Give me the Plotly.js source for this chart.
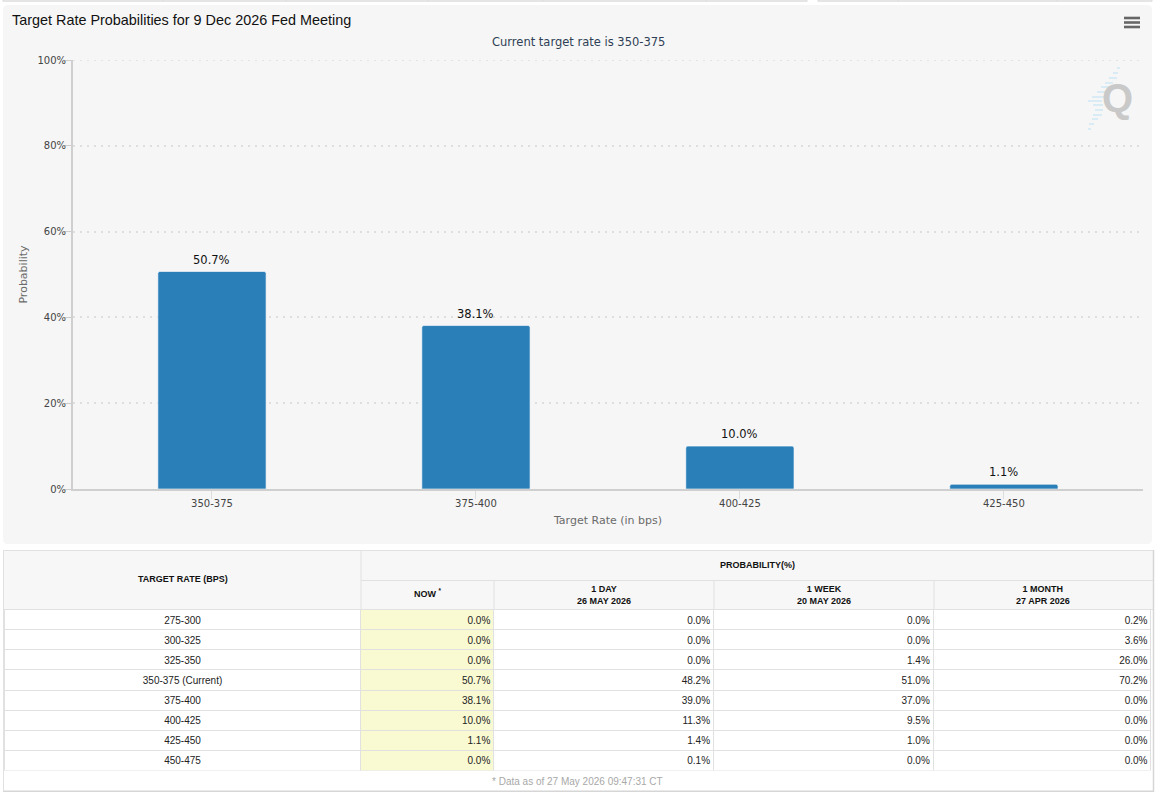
<!DOCTYPE html>
<html>
<head>
<meta charset="utf-8">
<script src="https://cdn.plot.ly/plotly-3.0.1.min.js"></script>
<style>html,body{margin:0;padding:0;background:#fff;overflow:hidden}#c{width:1156px;height:792px}</style>
</head>
<body>
<div id="c"></div>
<script>
const chartTitle = "Target Rate Probabilities for 9 Dec 2026 Fed Meeting";
const chartSubtitle = "Current target rate is 350-375";
const barCategories = ["350-375", "375-400", "400-425", "425-450"];
const barValues = [50.7, 38.1, 10.0, 1.1];
const yTicks = [0, 20, 40, 60, 80, 100];
const rateLabels = ["275-300","300-325","325-350","350-375 (Current)","375-400","400-425","425-450","450-475"];
const nowCol = ["0.0%","0.0%","0.0%","50.7%","38.1%","10.0%","1.1%","0.0%"];
const dayCol = ["0.0%","0.0%","0.0%","48.2%","39.0%","11.3%","1.4%","0.1%"];
const weekCol = ["0.0%","0.0%","1.4%","51.0%","37.0%","9.5%","1.0%","0.0%"];
const monthCol = ["0.2%","3.6%","26.0%","70.2%","0.0%","0.0%","0.0%","0.0%"];
const headTarget = "TARGET RATE (BPS)";
const headProb = "PROBABILITY(%)";
const headNow = "NOW <sup>*</sup>";
const headDay = "1 DAY<br>26 MAY 2026";
const headWeek = "1 WEEK<br>20 MAY 2026";
const headMonth = "1 MONTH<br>27 APR 2026";
const footNote = "* Data as of 27 May 2026 09:47:31 CT";

const W = 1156, H = 792;
const px = x => x / W, py = y => 1 - y / H;
const colX = [4, 361, 494, 714, 934, 1152];
const rowTop = 609.5, rowBottom = 770.5;
const lineC = "#e1e1e1";
const arial = "Liberation Sans, Arial, sans-serif";
const deja = "DejaVu Sans, Verdana, sans-serif";

const shapes = [];
function rect(x0, y0, x1, y1, fill) {
  shapes.push({type:"rect", xref:"paper", yref:"paper", x0:px(x0), x1:px(x1), y0:py(y0), y1:py(y1),
    fillcolor:fill, line:{color:"rgba(0,0,0,0)", width:0}, layer:"below"});
}
function seg(x0, y0, x1, y1, color, w, layer) {
  shapes.push({type:"line", xref:"paper", yref:"paper", x0:px(x0), x1:px(x1), y0:py(y0), y1:py(y1),
    line:{color:color, width:w}, layer:layer||"below"});
}
const r = 5, pL = 3, pT = 5, pR = 1152, pB = 544;
const X = v => px(v).toFixed(5), Y = v => py(v).toFixed(5);
shapes.push({type:"path", xref:"paper", yref:"paper", layer:"below", fillcolor:"#f6f6f6", line:{width:0},
  path:`M${X(pL+r)},${Y(pT)} L${X(pR-r)},${Y(pT)} Q${X(pR)},${Y(pT)} ${X(pR)},${Y(pT+r)} L${X(pR)},${Y(pB-r)} Q${X(pR)},${Y(pB)} ${X(pR-r)},${Y(pB)} L${X(pL+r)},${Y(pB)} Q${X(pL)},${Y(pB)} ${X(pL)},${Y(pB-r)} L${X(pL)},${Y(pT+r)} Q${X(pL)},${Y(pT)} ${X(pL+r)},${Y(pT)} Z`});
// cut-off table above the chart
seg(3, 1, 807, 1, "#dcdcdc", 1.5); seg(818, 1, 1152, 1, "#dcdcdc", 1.5);
[3,163,286,428,543,706,807,818,898,1057,1152].forEach(x => seg(x, 0, x, 1.5, "#dcdcdc", 1));
// top gridline sits on the end of the axis domain
shapes.push({type:"line", xref:"paper", yref:"y", x0:px(73), x1:px(1143), y0:yTicks[5], y1:yTicks[5],
  line:{color:"#dedede", width:1.5, dash:"2px,5px"}, layer:"below"});
// menu icon
[18, 22.5, 27].forEach(y => seg(1124, y, 1140, y, "#666", 2.6, "above"));
// logo streaks
[[1117,1120,68],[1113,1118,73],[1109,1117,78],[1105,1113,83],[1101,1110,87],[1097,1106,92],[1092,1104,97],[1088,1102,101],
 [1093,1103,105],[1095,1103,110],[1093,1102,115],[1092,1098,119],[1089,1094,124],[1088,1091,129]]
  .forEach(s => seg(s[0], s[2], s[1], s[2], "#cfe9f6", 1.5));
// table frame and header
rect(3, 550, 1153, 791, "#fff");
rect(3, 550, 1153, 609.5, "#f7f7f7");
seg(1153.5, 550, 1153.5, 792, "#d6d6d6", 1.5);
seg(3, 791.3, 1153, 791.3, "#d6d6d6", 1.5);
seg(3, 550.5, 1153, 550.5, lineC, 1);
seg(3.5, 550, 3.5, 791, lineC, 1);
seg(361, 550, 361, 610, lineC, 1);
seg(361, 580.5, 1153, 580.5, lineC, 1);
colX.slice(2, 5).forEach(x => seg(x, 580.5, x, 610, lineC, 1));
seg(3, 609.5, 1153, 609.5, lineC, 1);

const ann = (text, x, y, font) => ({xref:"paper", yref:"paper", x:px(x), y:py(y), text:text,
  showarrow:false, xanchor:"center", yanchor:"middle", font:font, align:"center", borderpad:0});
const bold = s => "<b>" + s + "</b>";
const hf = {family:arial, size:9, color:"#111"};
const annotations = [
  ann(chartSubtitle, 578, 42, {family:deja, size:11.5, color:"#2f3f55"}),
  ann(bold("Q"), 1117, 98, {family:arial, size:40, color:"#c9c9c9"}),
  ann(bold(headTarget), 182.5, 578.5, hf),
  ann(bold(headProb), 757, 565, hf),
  ann(bold(headNow), 428, 593, hf),
  ann(bold(headDay), 604, 594.5, hf),
  ann(bold(headWeek), 824, 594.5, hf),
  ann(bold(headMonth), 1043, 594.5, hf),
  ann(footNote, 577, 781, {family:arial, size:10, color:"#a8a8a8"})
].concat(barCategories.map((c, i) => ({xref:"x", yref:"y", x:c, y:barValues[i], yshift:12, text:barValues[i].toFixed(1) + "%",
  showarrow:false, xanchor:"center", yanchor:"middle", font:{family:deja, size:11.5, color:"#111"}})));

const rowH = 20.125;
const cellFont = {family:arial, size:10, color:"#222"};
const clear = "rgba(0,0,0,0)";
const widths = colX.slice(1).map((x, i) => x - colX[i]);
const gridFill = ["#fff","#f9f9d2","#fff","#fff","#fff"];
const gridRows = rateLabels.slice(1).map(() => " ");
const gridTable = {
  type:"table",
  domain:{x:[px(colX[0]), px(colX[5])], y:[py(rowBottom), py(rowTop)]},
  columnwidth:widths,
  header:{values:[" "," "," "," "," "], height:rowH, fill:{color:gridFill}, line:{color:lineC, width:1}, font:cellFont},
  cells:{values:[gridRows, gridRows, gridRows, gridRows, gridRows], height:rowH, fill:{color:gridFill}, line:{color:lineC, width:1}, font:cellFont}
};
const textUp = 1.5, shift = 4.5;
const textY = {y:[py(rowBottom - textUp), py(rowTop - textUp)]};
const labelTable = {
  type:"table",
  domain:Object.assign({x:[px(colX[0]), px(colX[1])]}, textY),
  columnwidth:[widths[0]],
  header:{values:[rateLabels[0]], height:rowH, align:"center", fill:{color:clear}, line:{color:clear, width:0}, font:cellFont},
  cells:{values:[rateLabels.slice(1)], height:rowH, align:"center", fill:{color:clear}, line:{color:clear, width:0}, font:cellFont}
};
const valueTable = {
  type:"table",
  domain:Object.assign({x:[px(colX[1]+shift), Math.min(1, px(colX[5]+shift))]}, textY),
  columnwidth:widths.slice(1),
  header:{values:[nowCol[0], dayCol[0], weekCol[0], monthCol[0]], height:rowH, align:"right",
    fill:{color:clear}, line:{color:clear, width:0}, font:cellFont},
  cells:{values:[nowCol.slice(1), dayCol.slice(1), weekCol.slice(1), monthCol.slice(1)],
    height:rowH, align:"right", fill:{color:clear}, line:{color:clear, width:0}, font:cellFont}
};
const bars = {
  type:"bar", x:barCategories, y:barValues, cliponaxis:false,
  marker:{color:"#2a7fb8", line:{color:"#fff", width:0.6}, cornerradius:2},
  hoverinfo:"x+y", showlegend:false
};
const layout = {
  width:W, height:H, margin:{l:0, r:0, t:0, b:0}, paper_bgcolor:"#fff", plot_bgcolor:"rgba(0,0,0,0)",
  showlegend:false, bargap:0.59,
  title:{text:chartTitle, x:px(12), xanchor:"left", y:py(20), yanchor:"middle", font:{family:arial, size:14.4, color:"#111"}},
  xaxis:{type:"category", domain:[px(73), px(1143)], range:[-0.5265, 3.527], showgrid:false, zeroline:false,
    showline:true, linecolor:"#cfcfcf", linewidth:1.5, ticks:"outside", ticklen:8, tickcolor:"#ddd", tickwidth:1,
    ticklabelstandoff:-4,
    tickfont:{family:deja, size:10, color:"#444"},
    title:{text:"Target Rate (in bps)", font:{family:deja, size:11, color:"#6b6b6b"}, standoff:9}},
  yaxis:{domain:[py(489), py(60)], range:[0, 100], tickmode:"array", tickvals:yTicks, ticktext:yTicks.map(v => v + "%"), zeroline:false,
    showgrid:true, gridcolor:"#dedede", griddash:"2px,5px", gridwidth:1.5,
    showline:true, linecolor:"#cfcfcf", linewidth:2, ticks:"outside", ticklen:7, tickcolor:"#ccc", tickwidth:1,
    ticklabelstandoff:-4,
    tickfont:{family:deja, size:10, color:"#444"},
    title:{text:"Probability", font:{family:deja, size:11, color:"#6b6b6b"}, standoff:8}},
  shapes:shapes, annotations:annotations
};
Plotly.newPlot("c", [bars, gridTable, labelTable, valueTable], layout, {displayModeBar:false, responsive:false});
</script>
</body>
</html>
